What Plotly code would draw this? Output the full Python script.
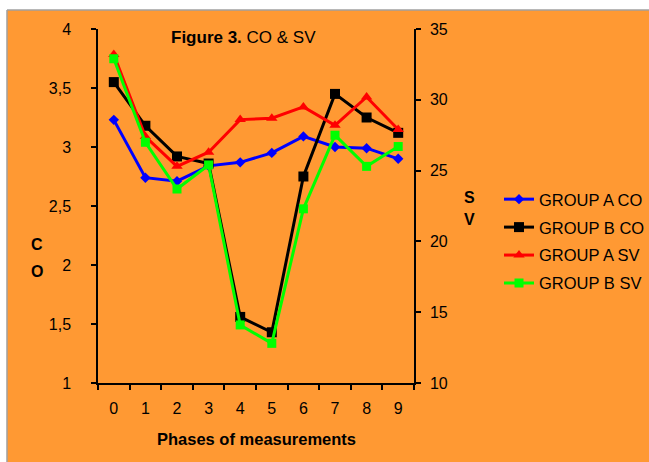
import plotly.graph_objects as go

phases = ["0", "1", "2", "3", "4", "5", "6", "7", "8", "9"]
group_a_co = [3.23, 2.74, 2.71, 2.84, 2.87, 2.95, 3.09, 3.00, 2.99, 2.90]
group_b_co = [3.55, 3.18, 2.92, 2.86, 1.56, 1.43, 2.75, 3.45, 3.25, 3.12]
group_a_sv = [33.2, 27.4, 25.3, 26.3, 28.6, 28.7, 29.5, 28.2, 30.2, 27.9]
group_b_sv = [32.9, 27.0, 23.7, 25.4, 14.1, 12.8, 22.3, 27.5, 25.3, 26.7]

ORANGE = "#FF9933"
FONT = "Liberation Sans, Arial, sans-serif"

fig = go.Figure()
fig.add_trace(go.Scatter(x=phases, y=group_a_co, name="GROUP A CO", legendgroup="a",
                         mode="lines+markers", line=dict(color="#0000FF", width=3),
                         marker=dict(symbol="diamond", size=8, color="#0000FF"), yaxis="y"))
fig.add_trace(go.Scatter(x=phases, y=group_b_co, name="GROUP B CO", legendgroup="b",
                         mode="lines+markers", line=dict(color="#000000", width=3),
                         marker=dict(symbol="square", size=10, color="#000000"), yaxis="y"))
fig.add_trace(go.Scatter(x=phases, y=group_a_sv, name="GROUP A SV", legendgroup="c",
                         mode="lines+markers", line=dict(color="#FF0000", width=3),
                         marker=dict(symbol="triangle-up", size=10, color="#FF0000"), yaxis="y2"))
fig.add_trace(go.Scatter(x=phases, y=group_b_sv, name="GROUP B SV", legendgroup="d",
                         mode="lines+markers", line=dict(color="#00FF00", width=3),
                         marker=dict(symbol="square", size=9, color="#00FF00"), yaxis="y2"))

axis_common = dict(showline=True, linecolor="black", linewidth=1.5, ticks="outside",
                   tickcolor="black", ticklen=5, tickwidth=1.5, showgrid=False, zeroline=False,
                   tickfont=dict(family=FONT, size=16, color="black"))

fig.update_layout(
    width=649, height=462,
    margin=dict(l=98, r=235, t=29, b=79, autoexpand=False),
    paper_bgcolor=ORANGE, plot_bgcolor=ORANGE,
    separators=",.",
    font=dict(family=FONT, size=16, color="black"),
    showlegend=True,
    legend=dict(x=1.269, y=0.568, xanchor="left", yanchor="top", bgcolor="rgba(0,0,0,0)",
                font=dict(family=FONT, size=16.5, color="black"), tracegroupgap=3.5,
                itemwidth=30),
    xaxis=dict(type="category", categoryorder="array", categoryarray=phases,
               tickson="boundaries", range=[-0.5, 9.5], ticklabelstandoff=10, **axis_common),
    yaxis=dict(range=[1, 4], dtick=0.5, tick0=1, ticklabelstandoff=17, **axis_common),
    yaxis2=dict(range=[10, 35], dtick=5, tick0=10, overlaying="y", side="right",
                ticklabelstandoff=6, **axis_common),
    shapes=[
        dict(type="rect", xref="paper", yref="paper", x0=-0.4, x1=1.9, y0=1.054, y1=1.2,
             fillcolor="white", line=dict(width=0), layer="above"),
        dict(type="rect", xref="paper", yref="paper", x0=-0.4, x1=-0.288, y0=-0.3, y1=1.2,
             fillcolor="white", line=dict(width=0), layer="above"),
        dict(type="line", xref="paper", yref="paper", x0=-0.288, x1=1.9, y0=1.054, y1=1.054,
             line=dict(color="#A0A0A0", width=1.5)),
        dict(type="line", xref="paper", yref="paper", x0=-0.288, x1=-0.288, y0=-0.3, y1=1.054,
             line=dict(color="#A0A0A0", width=1.5)),
    ],
    annotations=[
        dict(text="<b>Figure 3.</b> CO &amp; SV", xref="paper", yref="paper", x=0.46, y=0.976,
             xanchor="center", yanchor="middle", showarrow=False, font=dict(size=17)),
        dict(text="<b>Phases of measurements</b>", xref="paper", yref="paper", x=0.5, y=-0.157,
             xanchor="center", yanchor="middle", showarrow=False, font=dict(size=16.5)),
        dict(text="<b>C</b>", xref="paper", yref="paper", x=-0.193, y=0.39,
             xanchor="center", yanchor="middle", showarrow=False, font=dict(size=16)),
        dict(text="<b>O</b>", xref="paper", yref="paper", x=-0.193, y=0.315,
             xanchor="center", yanchor="middle", showarrow=False, font=dict(size=16)),
        dict(text="<b>S</b>", xref="paper", yref="paper", x=1.176, y=0.525,
             xanchor="center", yanchor="middle", showarrow=False, font=dict(size=16)),
        dict(text="<b>V</b>", xref="paper", yref="paper", x=1.176, y=0.462,
             xanchor="center", yanchor="middle", showarrow=False, font=dict(size=16)),
    ],
)

fig.write_html("out.html", config={"displayModeBar": False},
               post_script="document.body.style.margin='0';document.body.style.overflow='hidden';")
